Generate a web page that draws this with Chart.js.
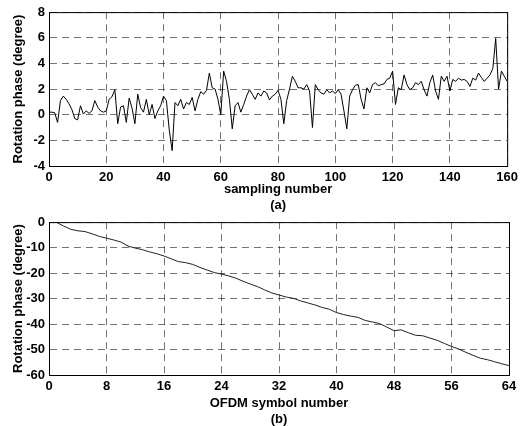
<!DOCTYPE html>
<html>
<head>
<meta charset="utf-8">
<script src="https://cdn.jsdelivr.net/npm/chart.js@4.4.0/dist/chart.umd.min.js"></script>
<style>
  html, body { margin: 0; padding: 0; background: #fff; overflow: hidden; width: 521px; height: 426px; }
  .box { position: absolute; left: 0; width: 521px; }
  #topBox { top: 0; height: 216px; }
  #botBox { top: 210px; height: 220px; }
</style>
</head>
<body>
<div class="box" id="topBox"><canvas id="chartA"></canvas></div>
<div class="box" id="botBox"><canvas id="chartB"></canvas></div>
<script>
// (a) rotation phase per sampling number (0..160)
const phaseA = [
  0.2, 0.2, 0.15, -0.6, 1.1, 1.45, 1.2, 0.85, 0.4, -0.3,
  -0.4, 0.7, 0.05, 0.3, 0.1, 0.3, 1.1, 0.6, 0.3, 0.2,
  0.3, 1.2, 1.4, 1.95, -0.7, 0.6, 0.7, -0.6, 1.3, 0.5,
  -0.7, 1.6, 0.55, 0.2, 1.2, 0.0, 0.8, -0.3, 0.3, 0.7,
  1.45, 1.1, -1.2, -2.8, 0.95, 0.7, 1.2, 0.45, 0.95, 0.8,
  1.35, 0.3, 1.2, 1.8, 1.6, 1.9, 3.25, 2.1, 2.0, 1.2,
  0.0, 3.4, 2.6, 1.2, -1.1, 0.7, 0.95, 0.2, 0.8, 1.45,
  1.95, 1.6, 1.2, 1.7, 1.45, 1.85, 1.7, 1.15, 1.45, 1.6,
  1.9, 1.2, -0.7, 1.1, 2.0, 3.0, 2.6, 2.1, 2.1, 2.0,
  2.35, 1.85, -1.0, 2.35, 1.95, 1.7, 1.6, 1.95, 1.7, 1.85,
  1.65, 1.95, 1.6, 0.3, -1.1, 1.45, 1.95, 2.3, 2.35, 1.2,
  0.45, 2.1, 1.7, 2.35, 2.5, 2.25, 2.35, 2.4, 2.75, 2.85,
  3.4, 0.8, 2.1, 1.95, 3.1, 2.35, 1.95, 2.1, 2.5, 2.35,
  2.6, 1.95, 1.45, 2.5, 3.1, 1.85, 1.2, 3.0, 2.6, 3.0,
  1.85, 2.75, 2.6, 2.85, 2.7, 2.75, 2.6, 2.2, 2.85, 2.7,
  3.25, 2.9, 2.6, 2.85, 3.1, 3.6, 5.95, 2.0, 3.4, 3.0,
  2.6
];

// (b) rotation phase per OFDM symbol (1..64)
const phaseB = [
  0, -1.5, -2.8, -3.4, -3.7, -4.6, -5.6, -6.3, -7.0, -7.8,
  -9.4, -10.2, -10.8, -11.7, -12.4, -13.3, -14.4, -15.5, -15.9, -16.6,
  -17.8, -18.8, -19.8, -20.4, -21.1, -22.0, -23.2, -24.3, -25.3, -26.6,
  -27.8, -28.6, -29.4, -29.9, -30.9, -31.7, -32.5, -33.5, -34.2, -35.5,
  -36.3, -36.9, -37.4, -38.6, -39.2, -39.8, -41.2, -42.6, -42.3, -43.4,
  -44.4, -44.6, -45.5, -46.4, -47.6, -48.8, -49.8, -51.1, -52.3, -53.4,
  -54.0, -54.8, -55.6, -56.3
];

const xTicksA = [0, 20, 40, 60, 80, 100, 120, 140, 160];
const yTicksA = [-4, -2, 0, 2, 4, 6, 8];
const xTicksB = [0, 8, 16, 24, 32, 40, 48, 56, 64];
const yTicksB = [-60, -50, -40, -30, -20, -10, 0];

const font = { family: "'Liberation Sans', Arial, sans-serif", size: 13, weight: "bold", lineHeight: 1.25 };

// box around the plot area, like matlab
const frame = {
  id: "frame",
  afterDraw(chart) {
    const a = chart.chartArea;
    const ctx = chart.ctx;
    ctx.save();
    ctx.strokeStyle = "#000";
    ctx.lineWidth = 1;
    ctx.strokeRect(a.left + 0.5, a.top + 0.5, a.right - a.left, a.bottom - a.top);
    ctx.restore();
  },
};

function makeChart(id, values, firstX, xTicks, yTicks, xTitle, axisH, padTop, lineColor) {
  const pts = values.map((v, i) => ({ x: i + firstX, y: v }));
  const grid = { color: "rgba(0,0,0,0.55)", lineWidth: 1, drawTicks: false };
  const border = { color: "#000", width: 1, dash: [7, 5] };
  return new Chart(document.getElementById(id), {
    type: "line",
    data: {
      datasets: [{
        data: pts,
        borderColor: lineColor,
        borderWidth: 1,
        pointRadius: 0,
        tension: 0,
      }],
    },
    options: {
      responsive: true,
      maintainAspectRatio: false,
      animation: false,
      layout: { padding: { left: 0, right: 12, top: padTop, bottom: 0 } },
      plugins: { legend: { display: false }, tooltip: { enabled: false } },
      scales: {
        x: {
          type: "linear",
          min: xTicks[0],
          max: xTicks[xTicks.length - 1],
          afterBuildTicks: (s) => { s.ticks = xTicks.map((v) => ({ value: v })); },
          afterFit: (s) => { s.height = axisH; },
          ticks: { color: "#000", font: font, padding: 3, maxRotation: 0 },
          grid: grid,
          border: border,
          title: { display: true, text: xTitle, color: "#000", font: font, padding: { top: 0, bottom: 2 } },
        },
        y: {
          min: yTicks[0],
          max: yTicks[yTicks.length - 1],
          afterBuildTicks: (s) => { s.ticks = yTicks.map((v) => ({ value: v })); },
          afterFit: (s) => { s.width = 49; },
          ticks: { color: "#000", font: font, padding: 4 },
          grid: grid,
          border: border,
          title: { display: true, text: "Rotation phase (degree)", color: "#000", font: font, padding: { top: 10, bottom: 0 } },
        },
      },
    },
    plugins: [frame],
  });
}

makeChart("chartA", phaseA, 0, xTicksA, yTicksA, ["sampling number", "(a)"], 50, 10, "#000");
makeChart("chartB", phaseB, 1, xTicksB, yTicksB, ["OFDM symbol number", "(b)"], 55, 12, "#222");
</script>
</body>
</html>
